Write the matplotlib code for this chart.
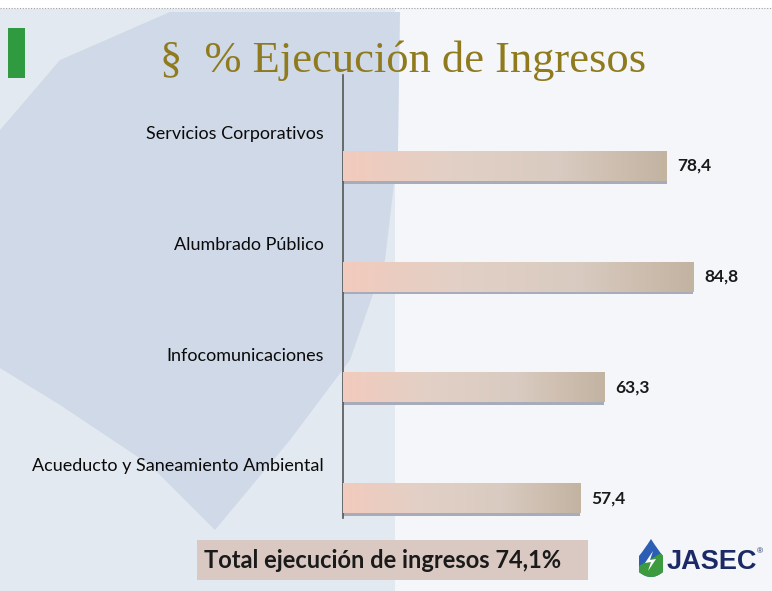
import numpy as np
import matplotlib
matplotlib.use("Agg")
import matplotlib.pyplot as plt
from matplotlib.patches import Polygon, Rectangle, PathPatch
from matplotlib.path import Path

categories = ["Servicios Corporativos", "Alumbrado Público", "Infocomunicaciones",
              "Acueducto y Saneamiento Ambiental"]
values = [78.4, 84.8, 63.3, 57.4]
value_labels = ["78,4", "84,8", "63,3", "57,4"]
title = "§  % Ejecución de Ingresos"
total_text = "Total ejecución de ingresos 74,1%"

W, H = 772, 591
fig = plt.figure(figsize=(W / 100, H / 100), dpi=100)
fig.patch.set_facecolor("#f4f6f9")

# background decoration in pixel coords
bg = fig.add_axes([0, 0, 1, 1], zorder=-1)
bg.set_xlim(0, W)
bg.set_ylim(H, 0)
bg.axis("off")
bg.add_patch(Rectangle((0, 9), 395, H, color="#e3e9f0", lw=0))
bg.add_patch(Polygon([(0, 130), (60, 60), (170, 12), (400, 12), (398, 150), (385, 260),
                      (350, 360), (290, 440), (215, 530), (150, 465), (60, 405), (0, 368)],
                     closed=True, color="#d0d9e7", lw=0))
bg.add_patch(Rectangle((0, 0), W, 8, color="white", lw=0))
bg.plot([0, W], [8, 8], color="#a0a0a0", lw=0.8, ls=(0, (1, 1.5)))
bg.add_patch(Rectangle((8, 28), 17, 50, color="#2f9a3f", lw=0))
bg.text(403, 61, title, family="Liberation Serif", fontsize=32, color="#8f7b1e",
        ha="center", va="center")

# total box
grad_box = np.linspace(0, 1, 50).reshape(-1, 1)
box = Rectangle((197, 540), 391, 40, facecolor="#d9c9c2", lw=0)
bg.add_patch(box)
img = bg.imshow(grad_box, extent=(197, 588, 580, 540), aspect="auto",
                cmap=matplotlib.colors.LinearSegmentedColormap.from_list("b", ["#cdc5c3", "#e6cdc3"]))
img.set_clip_path(box)
bg.text(383, 561, total_text, family="Lato", fontweight="bold", fontsize=17,
        color="#1a1a1a", ha="center", va="center")

# logo
drop = Path([(651, 539), (644, 550), (639, 556), (639, 564), (639, 572), (645, 577), (651, 577),
             (657, 577), (663, 572), (663, 564), (663, 556), (658, 550), (651, 539)],
            [Path.MOVETO, Path.CURVE3, Path.CURVE3, Path.CURVE3, Path.CURVE3, Path.CURVE3, Path.CURVE3,
             Path.CURVE3, Path.CURVE3, Path.CURVE3, Path.CURVE3, Path.CURVE3, Path.CURVE3])
dp = PathPatch(drop, facecolor="#2c5fb3", lw=0)
bg.add_patch(dp)
green = bg.add_patch(Polygon([(639, 566), (663, 552), (663, 577), (639, 577)], color="#3c9b3f", lw=0))
green.set_clip_path(dp)
bg.add_patch(Polygon([(653, 551), (645, 563), (651, 562), (648, 571), (656, 559), (650, 560)],
                     color="white", lw=0))
bg.text(667, 562, "JASEC", family="Liberation Sans", fontweight="bold", fontsize=19.5,
        color="#1b2a66", ha="left", va="center")
bg.text(757, 552, "®", family="Liberation Sans", fontsize=6, color="#1b2a66",
        ha="left", va="center")

# chart
ax = fig.add_axes([343 / W, 1 - 518 / H, 413 / W, 443 / H])
ax.patch.set_alpha(0)
y = np.arange(len(categories))
off, bh = 0.32, 0.27
ax.barh(y + off + 0.025, values, height=bh, color="#a8abba", zorder=1)
bars = ax.barh(y + off, values, height=bh, color="#dccbc0", zorder=2)
cmap = matplotlib.colors.LinearSegmentedColormap.from_list(
    "bar", ["#f2cbbd", "#e2d0c6", "#d9cbc1", "#c3b3a1"])
grad = np.linspace(0, 1, 200).reshape(1, -1)
for b in bars:
    x0, y0 = b.get_x(), b.get_y()
    im = ax.imshow(grad, extent=(x0, x0 + b.get_width(), y0 + b.get_height(), y0),
                   aspect="auto", cmap=cmap, zorder=3)
    im.set_clip_path(b)
for yi, v, lab in zip(y, values, value_labels):
    ax.text(v + 2.6, yi + off, lab, family="Lato", fontweight="bold", fontsize=12.5,
            color="#1a1a1a", ha="left", va="center")

ax.set_xlim(0, 100)
ax.set_ylim(3.5, -0.5)
ax.set_yticks(y + 0.02)
ax.set_yticklabels(categories, family="Lato", fontsize=13, color="#0a0a0a")
ax.tick_params(axis="y", length=0, pad=14)
ax.set_xticks([])
for s in ["top", "right", "bottom"]:
    ax.spines[s].set_visible(False)
ax.spines["left"].set_color("#555555")
ax.spines["left"].set_linewidth(1.2)

fig.savefig("out.png", dpi=100, facecolor=fig.get_facecolor())
